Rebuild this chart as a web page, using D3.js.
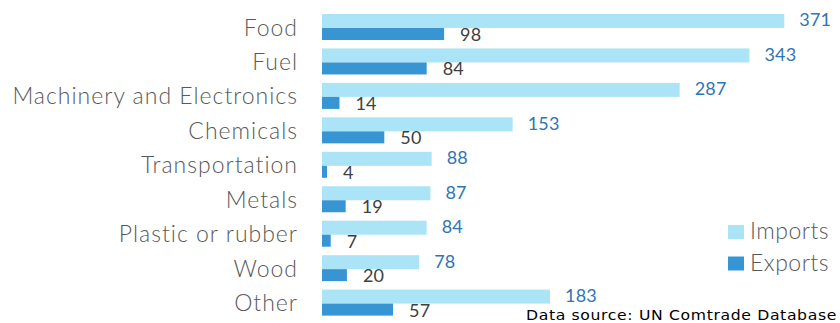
<!DOCTYPE html>
<html><head><meta charset="utf-8">
<script src="https://cdn.jsdelivr.net/npm/d3@7"></script>
<style>body{margin:0;background:#fff;} svg{display:block;font-family:Lato, "Open Sans", sans-serif;}</style>
</head><body>
<svg id="c" width="840" height="323"></svg>
<script>
const categories = ["Food","Fuel","Machinery and Electronics","Chemicals","Transportation","Metals","Plastic or rubber","Wood","Other"];
const imports = [371,343,287,153,88,87,84,78,183];
const exports = [98,84,14,50,4,19,7,20,57];
const seriesNames = ["Imports","Exports"];
const colors = {Imports:"#abe4f6", Exports:"#3795d4"};

const svg = d3.select("#c");
const x = d3.scaleLinear().domain([0,371]).range([322,784.3]);
const y = d3.scaleBand().domain(categories).range([14, 14+9*34.45]).padding(0);
const hImp = 14, hExp = 12;

const g = svg.append("g");
categories.forEach((c,i)=>{
  g.append("rect").attr("x",x(0)).attr("y",y(c)).attr("width",x(imports[i])-x(0)).attr("height",hImp).attr("fill",colors.Imports);
  g.append("rect").attr("x",x(0)).attr("y",y(c)+hImp).attr("width",x(exports[i])-x(0)).attr("height",hExp).attr("fill",colors.Exports);
  g.append("text").attr("x",x(imports[i])+15).attr("y",y(c)+hImp/2).attr("dy","0.3em")
    .attr("font-size",18).attr("font-weight",400).attr("letter-spacing",0.2).attr("fill","#2e75b6").text(imports[i]);
  g.append("text").attr("x",x(exports[i])+16).attr("y",y(c)+hImp+hExp/2+0.5).attr("dy","0.36em")
    .attr("font-size",18).attr("font-weight",400).attr("letter-spacing",0.2).attr("fill","#404040").text(exports[i]);
});

const yAxis = d3.axisLeft(y).tickSize(0).tickPadding(0);
const ax = svg.append("g").attr("transform",`translate(298,${13 - y.bandwidth()/2})`).call(yAxis);
ax.select(".domain").remove();
ax.selectAll("text").attr("font-size",23).attr("font-weight",300).attr("letter-spacing",1)
  .attr("fill","#595959").attr("font-family","Lato, sans-serif")
  .attr("dy","0.37em").attr("y",0);

const leg = svg.append("g");
seriesNames.forEach((s,i)=>{
  const yy = 225 + i*31.5;
  leg.append("rect").attr("x",728).attr("y",yy).attr("width",16).attr("height",14).attr("fill",colors[s]);
  leg.append("text").attr("x",750).attr("y",yy+14).attr("font-size",23).attr("font-weight",300)
    .attr("letter-spacing",0.5).attr("fill","#595959").text(s);
});

svg.append("text").attr("x",526).attr("y",319.5).attr("font-size",14.6)
  .attr("font-family","DejaVu Sans, sans-serif")
  .attr("letter-spacing",0.6).attr("textLength",311).attr("lengthAdjust","spacingAndGlyphs")
  .attr("fill","#000").text("Data source: UN Comtrade Database");
</script>
</body></html>
